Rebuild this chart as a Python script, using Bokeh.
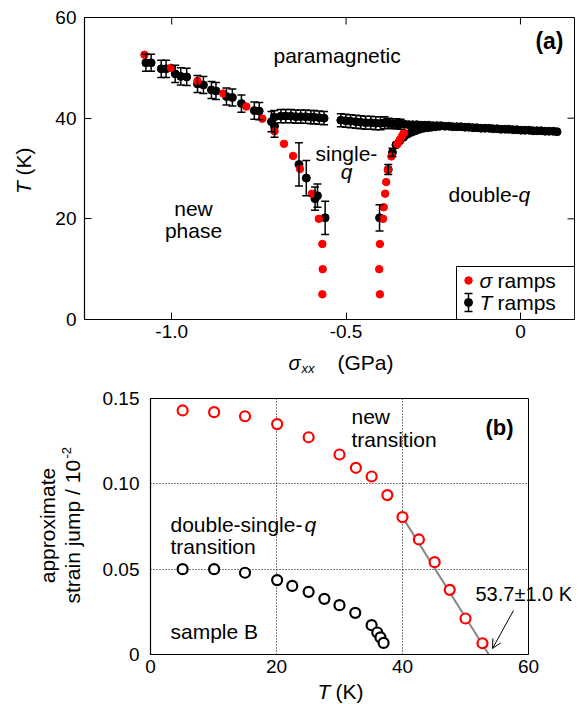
import math
from bokeh.plotting import figure
from bokeh.models import (ColumnDataSource, Whisker, TeeHead, Label,
                          FixedTicker, BoxAnnotation, Arrow, OpenHead, Range1d)
from bokeh.embed import file_html
from bokeh.resources import INLINE

FONT = "Liberation Sans"

# ---------------- panel (a) data ----------------
# sigma ramps (red)
SR_SIGMA = [-1.078, -1.002, -0.926, -0.852, -0.786, -0.740, -0.705, -0.678, -0.652, -0.632,
            -0.598, -0.578, -0.568, -0.567, -0.568,
            -0.403, -0.405, -0.403, -0.394, -0.392, -0.388, -0.385, -0.380, -0.370,
            -0.353, -0.346, -0.339, -0.334]
SR_T = [52.6, 50.0, 47.4, 44.9, 42.3, 39.9, 37.4, 34.9, 32.5, 29.9,
        25.0, 20.0, 15.0, 10.0, 5.0,
        5.0, 10.0, 15.0, 20.0, 22.3, 25.0, 27.3, 29.7, 32.4,
        34.8, 35.7, 36.5, 37.1]

# T ramps (black, with error bars)
TR_DIAG_SIGMA = [-1.074, -1.059, -1.030, -1.016, -0.990, -0.974, -0.957, -0.926, -0.909,
                 -0.886, -0.873, -0.843, -0.826, -0.800, -0.763, -0.749, -0.714, -0.705]
TR_DIAG_T = [51.0, 51.0, 49.8, 49.8, 48.8, 48.3, 48.2, 46.8, 46.6,
             45.6, 45.4, 44.3, 44.1, 42.9, 41.5, 41.4, 39.3, 38.4]
TR_DIAG_ERR = [1.7, 1.7, 1.7, 1.7, 1.7, 1.7, 1.7, 1.7, 1.7,
               1.7, 1.7, 1.7, 1.7, 1.7, 1.7, 1.7, 2.0, 2.2]

TR_TOP_SIGMA = [-0.706, -0.687, -0.673, -0.658, -0.644, -0.630, -0.616, -0.601, -0.592, -0.577, -0.563]
TR_TOP_T = [40.2, 40.4, 40.4, 40.4, 40.3, 40.3, 40.3, 40.2, 40.2, 40.1, 40.0]
TR_TOP_ERR = [1.3, 1.3, 1.3, 1.3, 1.3, 1.3, 1.3, 1.3, 1.3, 1.3, 1.3]

TR_MID_SIGMA = [-0.515, -0.501, -0.487, -0.472, -0.458, -0.444, -0.429, -0.415, -0.401,
                -0.390, -0.378, -0.367, -0.355, -0.344, -0.332]
TR_MID_T = [39.6, 39.5, 39.4, 39.3, 39.2, 39.1, 39.1, 39.0, 39.0,
            39.1, 39.0, 38.9, 38.9, 38.8, 38.8]
TR_MID_ERR = [1.3, 1.3, 1.3, 1.3, 1.3, 1.3, 1.3, 1.3, 1.3,
              1.2, 1.0, 1.0, 1.0, 1.0, 0.0]

TR_BAND_SIGMA = [-0.320, -0.309, -0.297, -0.286, -0.274, -0.263, -0.251, -0.240, -0.228, -0.217,
                 -0.205, -0.194, -0.182, -0.171, -0.159, -0.148, -0.136, -0.125, -0.113, -0.102,
                 -0.090, -0.079, -0.067, -0.056, -0.044, -0.033, -0.021, -0.010, 0.002, 0.013,
                 0.025, 0.036, 0.048, 0.059, 0.071, 0.082, 0.094, 0.105]
TR_BAND_T = [38.7, 38.7, 38.7, 38.6, 38.6, 38.6, 38.5, 38.5, 38.5, 38.4,
             38.4, 38.3, 38.3, 38.3, 38.2, 38.2, 38.1, 38.1, 38.0, 38.0,
             38.0, 37.9, 37.9, 37.8, 37.8, 37.8, 37.7, 37.7, 37.6, 37.6,
             37.6, 37.5, 37.5, 37.5, 37.4, 37.4, 37.4, 37.3]

TR_LOW_SIGMA = [-0.404, -0.379, -0.367, -0.357, -0.346, -0.335, -0.324, -0.312, -0.301,
                -0.289, -0.278, -0.266, -0.255, -0.243, -0.232]
TR_LOW_T = [20.2, 29.8, 33.2, 34.7, 35.5, 36.2, 36.8, 37.2, 37.5,
            37.8, 38.0, 38.1, 38.2, 38.3, 38.4]
TR_LOW_ERR = [2.6, 1.0, 0.8, 0, 0, 0, 0, 0, 0, 0, 0, 0, 0, 0, 0]

TR_DIP_SIGMA = [-0.635, -0.614, -0.589, -0.582, -0.560]
TR_DIP_T = [30.8, 28.1, 24.0, 24.6, 20.2]
TR_DIP_ERR = [4.3, 3.5, 2.3, 2.3, 3.3]

A_XTICKS = [-1.0, -0.5, 0.0]
A_XLABELS = {-1.0: "-1.0", -0.5: "-0.5", 0.0: "0"}
A_YTICKS = [0, 20, 40, 60]

# ---------------- panel (b) data ----------------
NEW_T = [5.1, 10.1, 15.0, 20.1, 25.1, 30.0, 32.6, 35.1, 37.6, 40.0, 42.6, 45.1, 47.5, 50.0, 52.7]
NEW_JUMP = [0.143, 0.142, 0.1396, 0.135, 0.1273, 0.1172, 0.1094, 0.1043, 0.0934, 0.0805,
            0.0674, 0.0541, 0.0379, 0.0211, 0.0066]
DS_T = [5.1, 10.1, 15.0, 20.1, 22.5, 25.1, 27.6, 30.0, 32.5, 35.1, 36.0, 36.5, 37.0]
DS_JUMP = [0.050, 0.050, 0.0479, 0.0436, 0.0402, 0.0367, 0.0326, 0.0289, 0.0244, 0.0172,
           0.0129, 0.0100, 0.0068]
FIT_T = [40.0, 53.7]
FIT_JUMP = [0.0805, 0.0]
B_XTICKS = [0, 20, 40, 60]
B_YTICKS = [0, 0.05, 0.10, 0.15]
B_YLABELS = {0: "0", 0.05: "0.05", 0.1: "0.10", 0.15: "0.15"}

# ---------------- geometry ----------------
W = 578
A_H, A_L, A_R, A_T, A_B = 386, 84, 4, 17, 67
A_X = (-1.25, 0.155)
A_Y = (0, 60)
B_H, B_L, B_R, B_T, B_B = 318, 150, 50, 12, 50
B_X = (0, 60)
B_Y = (0, 0.15)
A_FW, A_FH = W - A_L - A_R, A_H - A_T - A_B
B_FW, B_FH = W - B_L - B_R, B_H - B_T - B_B
A_BOT = A_T + A_FH
B_BOT = A_H + B_T + B_FH
TICK_PX = 7


def ax_(px):
    return A_X[0] + (px - A_L) * (A_X[1] - A_X[0]) / A_FW


def ay_(py):
    return A_Y[0] + (A_BOT - py) * (A_Y[1] - A_Y[0]) / A_FH


def bx_(px):
    return B_X[0] + (px - B_L) * (B_X[1] - B_X[0]) / B_FW


def by_(py):
    return B_Y[0] + (B_BOT - py) * (B_Y[1] - B_Y[0]) / B_FH


def lab(p, x, y, text, size=21, style="normal", align="left", baseline="middle",
        angle=0.0, place=None):
    lb = Label(x=x, y=y, text=text, text_font=FONT, text_font_size=f"{size}px",
               text_font_style=style, text_align=align, text_baseline=baseline,
               angle=angle, text_color="black")
    if place is None:
        p.add_layout(lb)
    else:
        p.add_layout(lb, place)


def style_axis(axis, standoff, tick_in=0, size="19px"):
    axis.major_label_text_font = FONT
    axis.major_label_text_font_size = size
    axis.major_label_text_color = "black"
    axis.major_tick_in = tick_in
    axis.major_tick_out = 0
    axis.minor_tick_in = 0
    axis.minor_tick_out = 0
    axis.major_label_standoff = standoff
    axis.axis_line_color = "black"
    axis.axis_line_width = 1.2
    axis.major_tick_line_color = "black"


# ================= panel (a) =================
pa = figure(width=W, height=A_H, x_range=Range1d(*A_X), y_range=Range1d(*A_Y),
            output_backend="svg", toolbar_location=None,
            min_border_left=A_L, min_border_right=A_R, min_border_top=A_T, min_border_bottom=A_B)
pa.grid.visible = False
pa.outline_line_color = "black"
pa.outline_line_alpha = 1
pa.xaxis.ticker = FixedTicker(ticks=A_XTICKS)
pa.xaxis.major_label_overrides = A_XLABELS
pa.yaxis.ticker = FixedTicker(ticks=A_YTICKS)
style_axis(pa.xaxis[0], 5, tick_in=TICK_PX)
style_axis(pa.yaxis[0], 8, tick_in=TICK_PX)

# inward ticks mirrored on the top and right frame edges
tick_dy = TICK_PX * (A_Y[1] - A_Y[0]) / A_FH
tick_dx = TICK_PX * (A_X[1] - A_X[0]) / A_FW
pa.segment(x0=A_XTICKS, y0=[A_Y[1]] * len(A_XTICKS), x1=A_XTICKS,
           y1=[A_Y[1] - tick_dy] * len(A_XTICKS), line_color="black", line_width=1)
pa.segment(x0=[A_X[1]] * len(A_YTICKS), y0=A_YTICKS, x1=[A_X[1] - tick_dx] * len(A_YTICKS),
           y1=A_YTICKS, line_color="black", line_width=1)

tr_sigma = TR_DIAG_SIGMA + TR_TOP_SIGMA + TR_MID_SIGMA + TR_BAND_SIGMA + TR_LOW_SIGMA + TR_DIP_SIGMA
tr_t = TR_DIAG_T + TR_TOP_T + TR_MID_T + TR_BAND_T + TR_LOW_T + TR_DIP_T
tr_err = TR_DIAG_ERR + TR_TOP_ERR + TR_MID_ERR + [0] * len(TR_BAND_T) + TR_LOW_ERR + TR_DIP_ERR

wb = [s for s, e in zip(tr_sigma, tr_err) if e > 0]
wl = [t - e for t, e in zip(tr_t, tr_err) if e > 0]
wu = [t + e for t, e in zip(tr_t, tr_err) if e > 0]
wsrc = ColumnDataSource(dict(base=wb, lower=wl, upper=wu))


def whisker(src):
    return Whisker(source=src, base="base", lower="lower", upper="upper", dimension="height",
                   line_color="black", line_width=1.5, level="glyph",
                   upper_head=TeeHead(size=8, line_color="black", line_width=1.5),
                   lower_head=TeeHead(size=8, line_color="black", line_width=1.5))


pa.add_layout(whisker(wsrc))
pa.scatter(tr_sigma, tr_t, size=8, marker="circle", fill_color="black", line_color="black")
pa.scatter(SR_SIGMA, SR_T, size=7.5, marker="circle", fill_color="#ff0000", line_color="#ff0000")

# legend (manual)
pa.add_layout(BoxAnnotation(left=ax_(456), top=ay_(266), fill_color="white", fill_alpha=1.0,
                            line_color="black", line_width=1, line_alpha=1, level="underlay"))
pa.scatter([ax_(468)], [ay_(280)], size=7.5, marker="circle", fill_color="#ff0000", line_color="#ff0000")
lsrc = ColumnDataSource(dict(base=[ax_(468)], lower=[ay_(311)], upper=[ay_(293)]))
pa.add_layout(whisker(lsrc))
pa.scatter([ax_(468)], [ay_(302)], size=8, marker="circle", fill_color="black", line_color="black")
lab(pa, ax_(479), ay_(280), "σ", style="italic")
lab(pa, ax_(497), ay_(280), "ramps")
lab(pa, ax_(479), ay_(302), "T", style="italic")
lab(pa, ax_(497), ay_(302), "ramps")

# annotations
lab(pa, ax_(273), ay_(55), "paramagnetic")
lab(pa, ax_(315), ay_(153), "single-")
lab(pa, ax_(346), ay_(171), "q", style="italic", align="center")
lab(pa, ax_(448), ay_(194), "double-")
lab(pa, ax_(518), ay_(194), "q", style="italic")
lab(pa, ax_(193), ay_(208), "new", align="center")
lab(pa, ax_(193), ay_(230), "phase", align="center")
lab(pa, ax_(563), ay_(40), "(a)", size=23, style="bold", align="right")

# axis titles (kept in side panels so the frame does not clip them)
lab(pa, ax_(23), ay_(187), "T", style="italic", align="center", angle=math.pi / 2, place="left")
lab(pa, ax_(23), ay_(161), "(K)", align="center", angle=math.pi / 2, place="left")
lab(pa, ax_(288), ay_(362), "σ", size=20, style="italic", place="below")
lab(pa, ax_(337), ay_(362), "(GPa)", place="below")
lab(pa, ax_(301), ay_(368), "xx", size=13, style="italic", place="above")

# ================= panel (b) =================
pb = figure(width=W, height=B_H, x_range=Range1d(*B_X), y_range=Range1d(*B_Y),
            output_backend="svg", toolbar_location=None,
            min_border_left=B_L, min_border_right=B_R, min_border_top=B_T, min_border_bottom=B_B)
pb.outline_line_color = "black"
pb.outline_line_alpha = 1
pb.xaxis.ticker = FixedTicker(ticks=B_XTICKS)
pb.yaxis.ticker = FixedTicker(ticks=B_YTICKS)
pb.yaxis.major_label_overrides = B_YLABELS
style_axis(pb.xaxis[0], 5)
style_axis(pb.yaxis[0], 11)
pb.xgrid.ticker = FixedTicker(ticks=[20, 40])
pb.ygrid.ticker = FixedTicker(ticks=[0.05, 0.10])
pb.grid.grid_line_color = "black"
pb.grid.grid_line_alpha = 1
pb.grid.grid_line_width = 1
pb.grid.grid_line_dash = "1 2"

pb.line(FIT_T, FIT_JUMP, line_color="#888888", line_width=2)
pb.scatter(NEW_T, NEW_JUMP, size=10, marker="circle", fill_color="white", line_color="#ff0000", line_width=2.2)
pb.scatter(DS_T, DS_JUMP, size=10, marker="circle", fill_color="white", line_color="black", line_width=2.2)

pb.add_layout(Arrow(x_start=bx_(513), y_start=by_(610), x_end=bx_(492), y_end=by_(648),
                    line_color="black", line_width=1,
                    end=OpenHead(size=9, line_color="black", line_width=1)))

lab(pb, bx_(351), by_(416), "new")
lab(pb, bx_(351), by_(439), "transition")
lab(pb, bx_(170), by_(524), "double-single-")
lab(pb, bx_(304), by_(524), "q", style="italic")
lab(pb, bx_(170), by_(546), "transition")
lab(pb, bx_(170), by_(631), "sample B")
lab(pb, bx_(513), by_(427), "(b)", size=22, style="bold", align="right")
lab(pb, bx_(475), by_(593), "53.7±1.0 K", size=20, place="below")

lab(pb, bx_(317), by_(691), "T", style="italic", place="right")
lab(pb, bx_(335), by_(691), "(K)", place="right")
lab(pb, bx_(47), by_(525), "approximate", align="center", angle=math.pi / 2, place="left")
lab(pb, bx_(72), by_(603), "strain jump / 10", align="left", angle=math.pi / 2, place="left")
lab(pb, bx_(66), by_(458), "-2", size=13, align="left", angle=math.pi / 2, place="left")

open("out.html", "w").write(file_html([pa, pb], INLINE))
